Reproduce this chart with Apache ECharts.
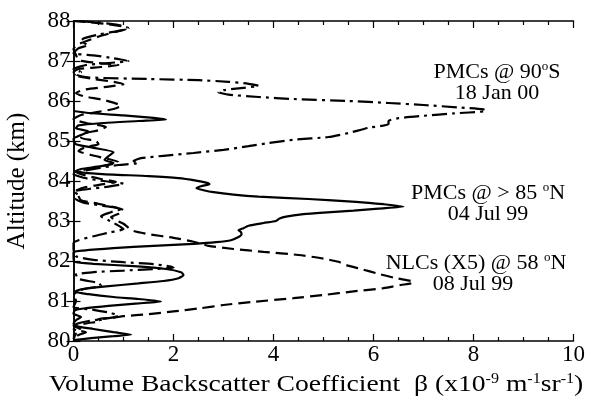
<!DOCTYPE html>
<html><head><meta charset="utf-8">
<script src="https://cdn.jsdelivr.net/npm/echarts@6/dist/echarts.min.js"></script>
<style>html,body{margin:0;padding:0;background:#fff}#c{width:603px;height:402px}</style>
</head><body><div id="c"></div>
<script>
// ---- Data (altitude km, beta x1e-9 m^-1 sr^-1) ----
const xTicks = [0, 2, 4, 6, 8, 10];
const yTicks = [80, 81, 82, 83, 84, 85, 86, 87, 88];

// PMCs @ >85 N, 04 Jul 99 (solid)
const solidAlt = [85.75,85.70,85.64,85.58,85.54,85.50,85.45,85.39,85.32,85.24,85.15,85.05,84.92,84.83,84.72,84.62,84.53,84.45,84.37,84.30,84.24,84.18,84.12,84.07,84.01,83.96,83.92,83.87,83.82,83.77,83.72,83.66,83.61,83.55,83.48,83.42,83.36,83.31,83.26,83.21,83.17,83.11,83.06,83.00,82.95,82.88,82.82,82.77,82.72,82.66,82.60,82.52,82.47,82.43,82.38,82.32,82.26,82.22,82.10,81.98,81.93,81.87,81.80,81.72,81.65,81.57,81.50,81.44,81.36,81.29,81.23,81.17,81.10,81.05,80.99,80.94,80.88,80.82,80.77,80.68,80.60,80.52,80.43,80.36,80.30,80.22,80.16,80.12,80.07,80.02];
const solidBeta = [0.0,0.3,1.0,1.6,1.85,1.3,0.6,0.1,0.05,0.3,0.15,0.0,0.05,0.4,0.8,0.7,0.62,0.8,0.55,0.15,0.03,0.5,1.5,2.1,2.45,2.65,2.72,2.55,2.46,2.6,2.8,3.2,3.7,4.7,5.65,6.2,6.6,6.1,5.6,5.0,4.6,4.25,4.12,4.05,3.8,3.5,3.4,3.3,3.35,3.36,3.3,3.15,2.85,2.4,1.6,0.8,0.2,0.0,0.0,0.02,0.4,1.2,1.85,2.15,2.2,2.1,1.8,1.3,0.6,0.15,0.02,0.3,0.8,1.3,1.75,1.3,0.7,0.25,0.03,0.0,0.15,0.05,0.0,0.1,0.4,0.8,1.15,0.8,0.35,0.0];

// PMCs @ 90 S, 18 Jan 00 (dash-dot)
const dashDotAlt = [88.0,87.96,87.90,87.82,87.74,87.66,87.56,87.48,87.40,87.32,87.20,87.14,87.07,87.00,86.95,86.90,86.80,86.72,86.66,86.59,86.55,86.52,86.48,86.43,86.38,86.33,86.27,86.22,86.16,86.10,86.05,86.00,85.95,85.90,85.84,85.79,85.75,85.69,85.63,85.57,85.50,85.42,85.33,85.20,85.10,85.03,84.95,84.87,84.78,84.70,84.63,84.57,84.50,84.45,84.40,84.32,84.25,84.17,84.08,84.00,83.93,83.86,83.80,83.74,83.64,83.55,83.46,83.38,83.30,83.22,83.12,83.02,82.92,82.80,82.72,82.62,82.52,82.45,82.30,82.12,82.03,81.97,81.92,81.86,81.83,81.80,81.76,81.72,81.66,81.55,81.45,81.38,81.30,81.15,81.00,80.85,80.78,80.70,80.63,80.57,80.50,80.42,80.30,80.22,80.15,80.05];
const dashDotBeta = [0.1,0.5,0.9,1.1,0.85,0.5,0.2,0.15,0.3,0.1,0.0,0.4,0.8,1.1,0.7,0.25,0.0,0.15,0.05,0.3,1.5,2.5,3.1,3.5,3.7,3.4,3.0,2.9,3.1,3.7,4.4,5.5,6.3,7.0,7.7,8.2,8.25,7.6,7.0,6.5,6.3,6.3,5.9,5.5,5.1,4.4,3.9,3.5,3.0,2.4,1.8,1.35,1.2,1.3,0.9,0.5,0.2,0.0,0.2,0.6,1.0,0.7,0.3,0.0,0.1,0.05,0.2,0.6,0.95,0.75,0.55,0.7,0.85,1.0,0.75,0.4,0.1,0.0,0.0,0.05,0.4,1.0,1.6,1.95,2.0,1.6,1.0,0.4,0.05,0.1,0.5,0.55,0.2,0.0,0.05,0.0,0.4,0.75,0.9,0.7,0.3,0.05,0.0,0.25,0.1,0.0];

// NLCs (X5) @ 58 N, 08 Jul 99 (dashed)
const dashedAlt = [88.0,87.97,87.92,87.86,87.80,87.73,87.63,87.52,87.42,87.30,87.15,87.02,86.95,86.90,86.85,86.80,86.72,86.62,86.55,86.48,86.42,86.36,86.28,86.20,86.12,86.04,85.96,85.88,85.80,85.73,85.65,85.55,85.45,85.35,85.27,85.18,85.08,85.00,84.92,84.85,84.75,84.65,84.55,84.47,84.38,84.30,84.22,84.12,84.05,83.98,83.92,83.85,83.75,83.62,83.52,83.43,83.35,83.27,83.18,83.10,83.02,82.93,82.83,82.75,82.67,82.58,82.48,82.38,82.30,82.23,82.15,82.06,81.98,81.90,81.80,81.68,81.57,81.50,81.46,81.40,81.32,81.24,81.15,81.07,80.98,80.90,80.82,80.74,80.67,80.62,80.58,80.55,80.50,80.45,80.38,80.28,80.18,80.05];
const dashedBeta = [0.0,0.3,0.7,1.0,1.05,0.85,0.55,0.3,0.1,0.0,0.05,0.1,0.5,0.9,0.55,0.1,0.0,0.1,0.4,0.8,1.0,0.7,0.2,0.05,0.2,0.55,0.8,0.95,0.8,0.5,0.15,0.0,0.25,0.65,0.5,0.2,0.15,0.45,0.5,0.25,0.1,0.35,0.7,0.9,0.6,0.3,0.05,0.3,0.55,0.85,0.6,0.25,0.05,0.1,0.15,0.5,0.8,1.0,0.9,0.75,0.85,1.0,1.1,1.2,1.5,2.0,2.4,2.7,3.2,3.8,4.5,5.0,5.3,5.45,5.75,6.1,6.45,6.75,6.8,6.55,6.2,5.6,5.0,4.4,3.6,3.0,2.55,2.0,1.5,1.0,0.8,0.5,0.55,0.3,0.0,0.15,0.05,0.0];

const labels = [
  ['PMCs @ 90{s|o}S', '18 Jan 00'],
  ['PMCs @ > 85 {s|o}N', '04 Jul 99'],
  ['NLCs (X5) @ 58 {s|o}N', '08 Jul 99']
];
const xName = 'Volume Backscatter Coefficient  β (x10{s|-9} m{s|-1}sr{s|-1})';
const yName = 'Altitude (km)';

function zip(alt, beta) { return alt.map((a, i) => [beta[i], a]); }

const FONT = '"Liberation Serif", "DejaVu Serif", serif';
const chart = echarts.init(document.getElementById('c'), null, {renderer: 'canvas'});
const axLine = {show: true, lineStyle: {color: '#000', width: 1.5}};

function ann(txt, cx, cy, size, sx) {
  return {type: 'text', x: cx, y: cy, scaleX: sx || 1, scaleY: 1, style: {
    text: txt, font: size + 'px ' + FONT, fill: '#000', align: 'center', verticalAlign: 'middle',
    rich: {s: {fontSize: Math.round(size * 0.6), fontFamily: FONT, fill: '#000', verticalAlign: 'top', lineHeight: size + 2}}
  }};
}

chart.setOption({
  animation: false,
  backgroundColor: '#fff',
  grid: {left: 73.5, right: 29.5, top: 21, bottom: 61, containLabel: false, outerBoundsMode: 'none'},
  xAxis: [{
    type: 'value', min: xTicks[0], max: xTicks[xTicks.length - 1], interval: 2,
    axisLine: axLine, axisTick: {inside: true, length: 7, lineStyle: {color: '#000', width: 1.2}},
    minorTick: {show: true, splitNumber: 4, length: 4, lineStyle: {color: '#000', width: 1.2}},
    splitLine: {show: false},
    axisLabel: {fontFamily: FONT, fontSize: 23, color: '#000', margin: 2}
  }, {
    type: 'value', position: 'top', min: xTicks[0], max: xTicks[xTicks.length - 1], interval: 2,
    axisLine: axLine, axisTick: {inside: true, length: 7, lineStyle: {color: '#000', width: 1.2}},
    minorTick: {show: true, splitNumber: 4, length: 4, lineStyle: {color: '#000', width: 1.2}},
    splitLine: {show: false}, axisLabel: {show: false}
  }],
  yAxis: [{
    type: 'value', min: yTicks[0], max: yTicks[yTicks.length - 1], interval: 1,
    axisLine: axLine, axisTick: {inside: true, length: 7, lineStyle: {color: '#000', width: 1.2}},
    splitLine: {show: false},
    axisLabel: {fontFamily: FONT, fontSize: 23, color: '#000', margin: 3},
    name: yName, nameLocation: 'middle', nameGap: 44, nameRotate: 90,
    nameTextStyle: {fontFamily: FONT, fontSize: 25, color: '#000'}
  }, {
    type: 'value', position: 'right', min: yTicks[0], max: yTicks[yTicks.length - 1], interval: 1,
    axisLine: axLine, axisTick: {inside: true, length: 7, lineStyle: {color: '#000', width: 1.2}},
    splitLine: {show: false}, axisLabel: {show: false}
  }],
  series: [
    {type: 'line', name: 'PMCs >85N', data: zip(solidAlt, solidBeta), showSymbol: false, smooth: 0.2,
     lineStyle: {color: '#000', width: 2.2, type: 'solid'}, z: 3},
    {type: 'line', name: 'PMCs 90S', data: zip(dashDotAlt, dashDotBeta), showSymbol: false, smooth: 0.2,
     lineStyle: {color: '#000', width: 2.2, type: [15, 5, 3, 5]}, z: 2},
    {type: 'line', name: 'NLCs 58N', data: zip(dashedAlt, dashedBeta), showSymbol: false, smooth: 0.2,
     lineStyle: {color: '#000', width: 2.2, type: [12, 6]}, z: 2}
  ],
  graphic: [
    ann(labels[0][0], 497, 72, 22), ann(labels[0][1], 497, 93, 22),
    ann(labels[1][0], 488, 193, 22), ann(labels[1][1], 488, 214, 22),
    ann(labels[2][0], 476, 263, 22), ann(labels[2][1], 473, 284, 22),
    ann(xName, 316, 385, 24, 1.15)
  ]
});
</script></body></html>
